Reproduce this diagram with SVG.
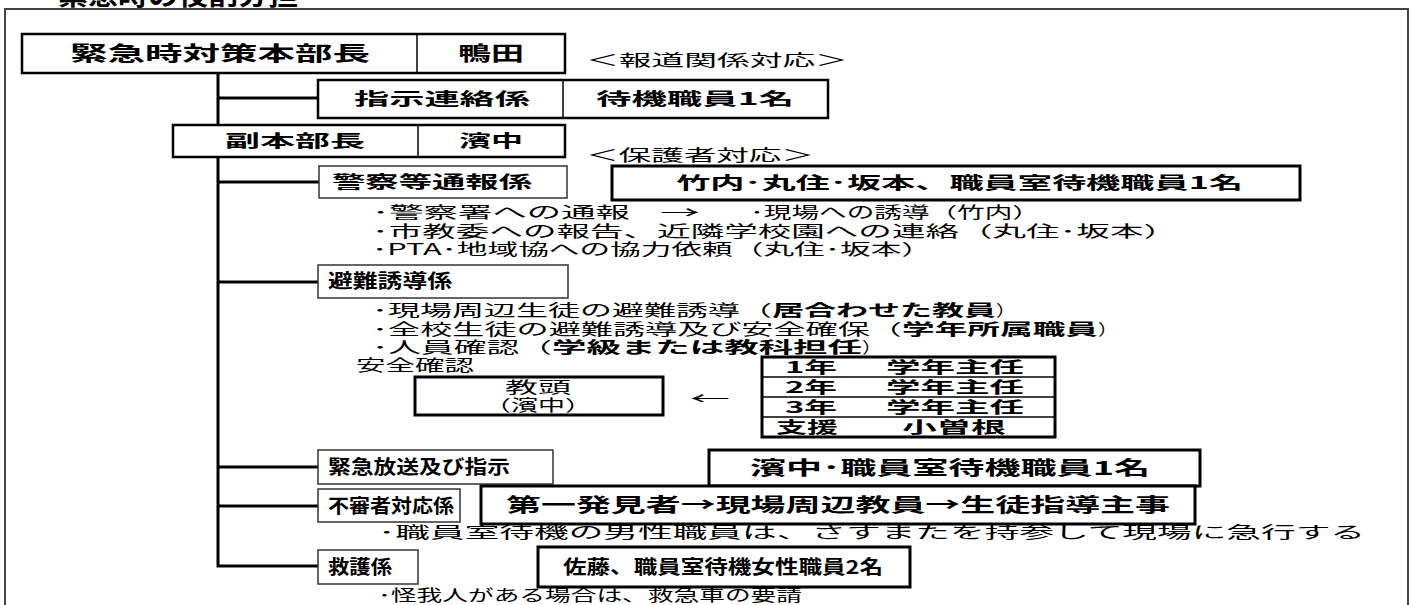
<svg xmlns="http://www.w3.org/2000/svg" width="1413" height="605" viewBox="0 0 1413 605">
<style>
text{font-family:"Noto Sans CJK JP","Noto Sans CJK SC",sans-serif;fill:#000;}
.t{font-size:15.5px;}
.bi{font-size:15.5px;font-weight:bold;}
.b{font-size:17px;font-weight:bold;}
.g{font-size:15.5px;font-weight:bold;}
.l{font-size:19px;font-weight:bold;}
.h{font-size:20px;font-weight:bold;}
.box{fill:#fff;stroke:#000;stroke-width:2.5;}
.thick{fill:#fff;stroke:#000;stroke-width:3;}
.thin{fill:#fff;stroke:#333;stroke-width:1.5;}
.div{stroke:#000;stroke-width:1.5;}
.con{fill:none;stroke:#000;stroke-width:3;}
</style>
<rect width="1413" height="605" fill="#fff"/>
<text x="58" y="5" style="font-size:26px;font-weight:bold" textLength="240" lengthAdjust="spacingAndGlyphs">緊急時の役割分担</text>
<rect x="5" y="9" width="1403" height="620" fill="none" stroke="#444" stroke-width="2"/>

<g id="connectors">
<path class="con" d="M218 73 V566 H318"/>
<path class="con" d="M218 98 H318"/>
<path class="con" d="M218 182 H319"/>
<path class="con" d="M218 282 H318"/>
<path class="con" d="M218 467 H318"/>
<path class="con" d="M218 506 H318"/>
</g>

<g id="head">
<rect class="box" x="22" y="34" width="543" height="39"/>
<line class="div" x1="417" y1="34" x2="417" y2="73"/>
<text class="h" x="70" y="61" textLength="300" lengthAdjust="spacingAndGlyphs">緊急時対策本部長</text>
<text class="h" x="458" y="61" textLength="66" lengthAdjust="spacingAndGlyphs">鴨田</text>
</g>
<g id="press">
<text class="t" x="586" y="66" textLength="262" lengthAdjust="spacingAndGlyphs">＜報道関係対応＞</text>
</g>

<g id="liaison">
<rect class="box" x="318" y="80" width="510" height="38"/>
<line class="div" x1="563" y1="80" x2="563" y2="118"/>
<text class="b" x="354" y="105" textLength="176" lengthAdjust="spacingAndGlyphs">指示連絡係</text>
<text class="b" x="596" y="105" textLength="198" lengthAdjust="spacingAndGlyphs">待機職員1名</text>
</g>

<g id="deputy">
<rect class="box" x="173" y="125" width="392" height="32"/>
<line class="div" x1="418" y1="125" x2="418" y2="157"/>
<text class="b" x="225" y="147" textLength="140" lengthAdjust="spacingAndGlyphs">副本部長</text>
<text class="b" x="459" y="147" textLength="64" lengthAdjust="spacingAndGlyphs">濱中</text>
</g>
<g id="parents">
<text class="t" x="586" y="161" textLength="228" lengthAdjust="spacingAndGlyphs">＜保護者対応＞</text>
</g>

<g id="police">
<rect class="thin" x="319" y="166" width="248" height="32"/>
<text class="b" x="332" y="188" textLength="200" lengthAdjust="spacingAndGlyphs" style="font-weight:600">警察等通報係</text>
<rect class="thick" x="612" y="166" width="688" height="34"/>
<text class="b" x="676" y="189" textLength="567" lengthAdjust="spacingAndGlyphs">竹内･丸住･坂本、職員室待機職員1名</text>
<text class="t" x="372" y="218" textLength="258" lengthAdjust="spacingAndGlyphs">･警察署への通報</text>
<text class="t" x="660" y="218" textLength="40" lengthAdjust="spacingAndGlyphs">→</text>
<text class="t" x="750" y="218" textLength="290" lengthAdjust="spacingAndGlyphs">･現場への誘導（竹内）</text>
<text class="t" x="372" y="237" textLength="805" lengthAdjust="spacingAndGlyphs">･市教委への報告、近隣学校園への連絡（丸住･坂本）</text>
<text class="t" x="372" y="255" textLength="560" lengthAdjust="spacingAndGlyphs">･PTA･地域協への協力依頼（丸住･坂本）</text>
</g>

<g id="evac">
<rect class="thin" x="318" y="265" width="250" height="33"/>
<text class="l" x="328" y="288" textLength="124" lengthAdjust="spacingAndGlyphs">避難誘導係</text>
<text class="t" x="372" y="316" textLength="400" lengthAdjust="spacingAndGlyphs">･現場周辺生徒の避難誘導（</text>
<text class="bi" x="772" y="316" textLength="224" lengthAdjust="spacingAndGlyphs">居合わせた教員</text>
<text class="t" x="996" y="316" textLength="20" lengthAdjust="spacingAndGlyphs">）</text>
<text class="t" x="372" y="335" textLength="530" lengthAdjust="spacingAndGlyphs">･全校生徒の避難誘導及び安全確保（</text>
<text class="bi" x="902" y="335" textLength="196" lengthAdjust="spacingAndGlyphs">学年所属職員</text>
<text class="t" x="1098" y="335" textLength="20" lengthAdjust="spacingAndGlyphs">）</text>
<text class="t" x="372" y="353" textLength="180" lengthAdjust="spacingAndGlyphs">･人員確認（</text>
<text class="bi" x="552" y="353" textLength="310" lengthAdjust="spacingAndGlyphs">学級または教科担任</text>
<text class="t" x="862" y="353" textLength="20" lengthAdjust="spacingAndGlyphs">）</text>
<text class="t" x="356" y="371" textLength="118" lengthAdjust="spacingAndGlyphs">安全確認</text>
</g>

<g id="kyoto">
<rect class="thick" x="415" y="377" width="248" height="38"/>
<text class="t" x="505" y="393" textLength="66" lengthAdjust="spacingAndGlyphs">教頭</text>
<text class="t" x="484" y="411" textLength="108" lengthAdjust="spacingAndGlyphs">（濱中）</text>
</g>
<g id="arrow">
<text class="t" x="690" y="404" textLength="40" lengthAdjust="spacingAndGlyphs">←</text>
</g>

<g id="grades">
<rect class="thick" x="762" y="357" width="293" height="80"/>
<line class="div" x1="762" y1="377" x2="1055" y2="377"/>
<line class="div" x1="762" y1="397" x2="1055" y2="397"/>
<line class="div" x1="762" y1="417" x2="1055" y2="417"/>
<text class="g" x="785" y="373" textLength="52" lengthAdjust="spacingAndGlyphs">1年</text>
<text class="g" x="886" y="373" textLength="138" lengthAdjust="spacingAndGlyphs">学年主任</text>
<text class="g" x="785" y="393" textLength="52" lengthAdjust="spacingAndGlyphs">2年</text>
<text class="g" x="886" y="393" textLength="138" lengthAdjust="spacingAndGlyphs">学年主任</text>
<text class="g" x="785" y="413" textLength="52" lengthAdjust="spacingAndGlyphs">3年</text>
<text class="g" x="886" y="413" textLength="138" lengthAdjust="spacingAndGlyphs">学年主任</text>
<text class="g" x="776" y="433" textLength="62" lengthAdjust="spacingAndGlyphs">支援</text>
<text class="g" x="902" y="433" textLength="104" lengthAdjust="spacingAndGlyphs">小曽根</text>
</g>

<g id="broadcast">
<rect class="thin" x="318" y="450" width="235" height="34"/>
<text class="l" x="328" y="474" textLength="182" lengthAdjust="spacingAndGlyphs">緊急放送及び指示</text>
<rect class="thick" x="709" y="450" width="491" height="36"/>
<text class="l" x="750" y="475" textLength="400" lengthAdjust="spacingAndGlyphs">濱中･職員室待機職員1名</text>
</g>

<g id="intruder">
<rect class="thin" x="318" y="489" width="142" height="33"/>
<text class="l" x="328" y="513" textLength="126" lengthAdjust="spacingAndGlyphs">不審者対応係</text>
<rect class="thick" x="481" y="486" width="714" height="38"/>
<text class="l" x="506" y="512" textLength="664" lengthAdjust="spacingAndGlyphs">第一発見者→現場周辺教員→生徒指導主事</text>
<text class="t" x="378" y="538" textLength="987" lengthAdjust="spacingAndGlyphs">･職員室待機の男性職員は、さすまたを持参して現場に急行する</text>
</g>

<g id="rescue">
<rect class="thin" x="318" y="550" width="100" height="34"/>
<text class="l" x="328" y="574" textLength="64" lengthAdjust="spacingAndGlyphs">救護係</text>
<rect class="thick" x="538" y="547" width="372" height="40"/>
<text class="l" x="563" y="574" textLength="320" lengthAdjust="spacingAndGlyphs">佐藤、職員室待機女性職員2名</text>
<text class="t" x="378" y="601" textLength="424" lengthAdjust="spacingAndGlyphs">･怪我人がある場合は、救急車の要請</text>
</g>
</svg>
